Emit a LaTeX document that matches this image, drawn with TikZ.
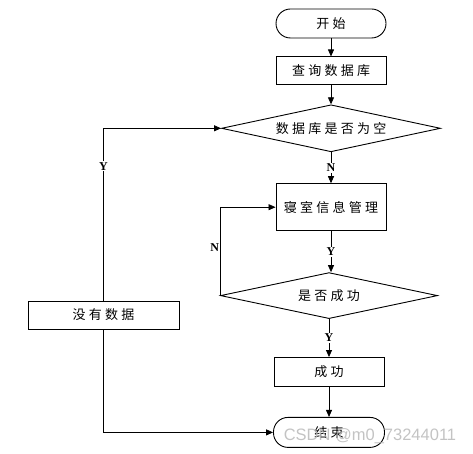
\documentclass[tikz,border=0pt]{standalone}
\usepackage{fontspec}
\newfontfamily\cjk[LetterSpace=25]{Noto Sans CJK SC}
\newfontfamily\wmfont{Liberation Sans}
\newfontfamily\ynfont{Liberation Serif}
\usetikzlibrary{positioning, arrows.meta, shapes.geometric}

\begin{document}
\begin{tikzpicture}[
    x=1pt, y=-1pt,
    node distance=18pt,
    font=\cjk\fontsize{13}{15}\selectfont,
    term/.style={
        draw,
        rectangle,
        rounded corners=14.5pt,
        minimum width=110pt,
        minimum height=29pt,
        inner sep=0pt
    },
    proc/.style={
        draw,
        rectangle,
        minimum width=110pt,
        minimum height=28pt,
        inner sep=0pt
    },
    decide/.style={
        draw,
        diamond,
        aspect=4.66,
        minimum width=219pt,
        minimum height=47pt,
        inner sep=0pt
    },
    edge/.style={line width=0.8pt, -{Triangle[length=7pt,width=6pt]}},
    lbl/.style={fill=white, inner sep=1pt, font=\ynfont\bfseries\fontsize{12}{14}\selectfont}
]
\useasboundingbox (0,0) rectangle (473,454);

\tikzset{every node/.append style={line width=0.9pt}}

\node[term] (start) at (331,23.5) {开始};
\node[proc] (query) [below=of start] {查询数据库};
\node[decide] (empty) [below=19pt of query] {数据库是否为空};
\node[proc, minimum height=47pt] (manage) [below=31pt of empty] {寝室信息管理};
\node[decide, minimum width=217pt, minimum height=46pt] (ok) [below=41pt of manage, xshift=-2pt] {是否成功};
\node[proc, minimum height=29pt] (done) [below=38pt of ok] {成功};
\node[term, minimum width=111pt, minimum height=30pt] (stop) [below=30pt of done] {结束};
\node[proc, minimum width=151pt] (nodata) at (103.5,315) {没有数据};

\draw[edge] (start) -- (query);
\draw[edge] (query) -- (empty);
\draw[edge] (empty) -- node[lbl] {N} (manage);
\draw[edge] (manage.south) -- node[lbl] {Y} (manage.south |- ok.north);
\draw[edge] (ok) -- node[lbl] {Y} (done);
\draw[edge] (done) -- (stop);

\draw[edge] (ok.west) |- node[lbl, left, fill=none, inner sep=0.5pt, pos=0.27] {N} (manage.west);
\draw[edge] (nodata.north) -- node[lbl, pos=0.78] {Y} (nodata.north |- empty.west) -- (empty.west);
\draw[edge] (nodata.south) |- (stop.west);

% watermark
\node[font=\wmfont\fontsize{16.5}{18}\selectfont, text=gray!55, opacity=0.85] (mark) at (370,436) {CSDN @m0\_73244011};
\end{tikzpicture}
\end{document}
